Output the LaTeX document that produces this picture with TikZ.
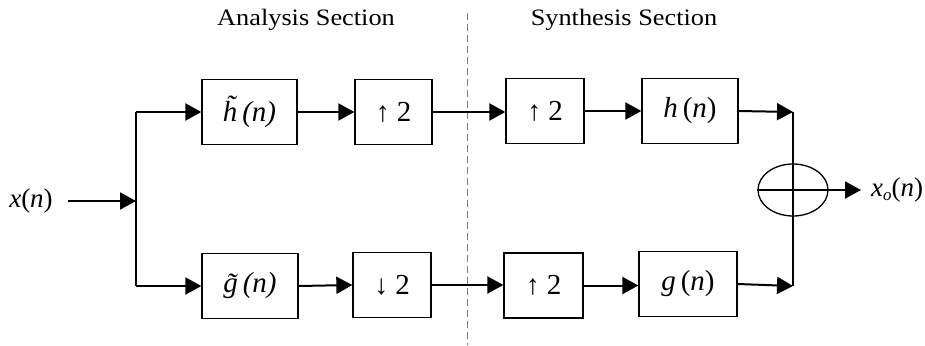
\documentclass[tikz,border=0pt]{standalone}
\usepackage{fontspec}
\setmainfont{Liberation Serif}
\usetikzlibrary{arrows.meta,shapes.geometric}
\begin{document}
\begin{tikzpicture}[x=1pt,y=-1pt,
  blk/.style={draw,line width=1.3pt,minimum height=65pt,inner sep=0pt,font=\fontsize{29}{32}\selectfont},
  sig/.style={line width=2pt,-{Triangle[length=16pt,width=17pt]}},
  wire/.style={line width=1.8pt},
  ttl/.style={font=\fontsize{23.5}{26}\selectfont}]
\useasboundingbox (0,0) rectangle (925,345);
\newcommand{\upar}{{\fontsize{28}{28}\selectfont↑}}
\newcommand{\dnar}{{\fontsize{28}{28}\selectfont↓}}
% titles
\node[ttl] (ta) at (306,20) {\scalebox{1.12}[1]{Analysis Section}};
\node[ttl] (ts) at (624,20) {\scalebox{1.12}[1]{Synthesis Section}};
% divider
\coordinate (dtop) at (467,13);
\coordinate (dbot) at (467,345);
\draw[gray,line width=0.8pt,dash pattern=on 7pt off 4pt] (dtop) -- (dbot);
% input
\node[font=\fontsize{27}{29}\selectfont,anchor=center] (xin) at (31,201) {\textit{x}(\textit{n})};
\coordinate (split) at (136,201);
\coordinate (splitT) at (136,112);
\coordinate (splitB) at (136,286);
% blocks
\node[blk,minimum width=95pt] (ht) at (249.5,112) {\~{\itshape h}\,(\textit{n})};
\node[blk,minimum width=77pt] (d1) at (393.5,112) {\upar\hspace{7pt}2};
\node[blk,minimum width=78pt] (u1) at (545,111) {\upar\hspace{7pt}2};
\node[blk,minimum width=96pt] (hs) at (690,111) {\textit{h}\,(\textit{n})};
\node[blk,minimum width=96pt] (gt) at (250,286) {\~{\itshape g}\,(\textit{n})};
\node[blk,minimum width=78pt] (d2) at (392,285) {\dnar\hspace{7pt}2};
\node[blk,minimum width=79pt] (u2) at (543.5,285.5) {\upar\hspace{7pt}2};
\node[blk,minimum width=98pt] (gs) at (688,284) {\textit{g}\,(\textit{n})};
% sum
\node[draw,ellipse,line width=1.3pt,minimum width=70pt,minimum height=52pt,inner sep=0pt] (sum) at (793,190) {};
\coordinate (jT) at (793,112);
\coordinate (jB) at (793,286);
\coordinate (outp) at (861,190);
\node[font=\fontsize{27}{29}\selectfont,anchor=west,inner sep=0pt] (xout) at (871,190) {\textit{x}\raisebox{-0.35ex}{\fontsize{17}{17}\selectfont\textit{o}}(\textit{n})};
% connectors
\draw[sig] (xin.east) ++(12,0) -- (split);
\draw[wire] (splitT) -- (splitB);
\draw[sig] (splitT) -- (ht.west);
\draw[sig] (splitB) -- (gt.west);
\draw[sig] (ht.east) -- (d1.west);
\draw[sig] (gt.east) -- (d2.west);
\draw[sig] (d1.east) -- (u1.west |- d1.east);
\draw[sig] (d2.east) -- (u2.west |- d2.east);
\draw[sig] (u1.east) -- (hs.west);
\draw[sig] (u2.east) -- (gs.west |- u2.east);
\draw[sig] (hs.east) -- (jT);
\draw[sig] (gs.east) -- (jB);
\draw[wire] (jT) -- (jB);
\draw[sig] (sum.west) -- (outp);
\end{tikzpicture}
\end{document}
